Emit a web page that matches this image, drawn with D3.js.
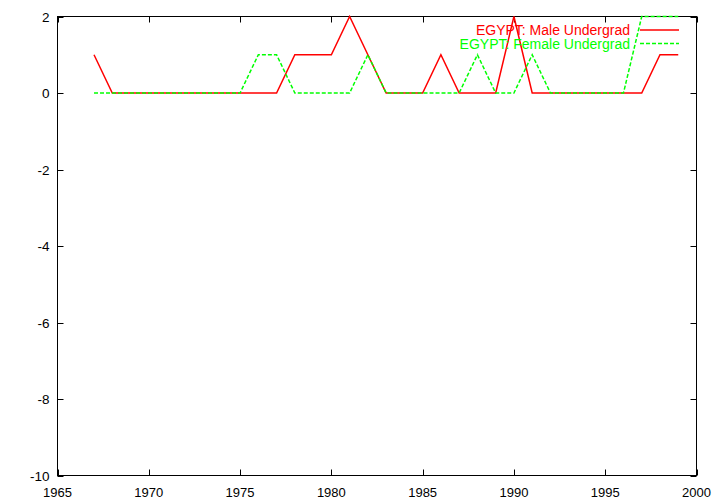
<!DOCTYPE html>
<html><head><meta charset="utf-8">
<script src="https://cdn.jsdelivr.net/npm/d3@7"></script>
<style>html,body{margin:0;padding:0;background:#fff;}svg{display:block;}</style>
</head><body>
<svg id="c" width="720" height="504"></svg>
<script>
const years = [1967,1968,1969,1970,1971,1972,1973,1974,1975,1976,1977,1978,1979,1980,1981,1982,1983,1984,1985,1986,1987,1988,1989,1990,1991,1992,1993,1994,1995,1996,1997,1998,1999];
const maleUndergrad =   [1,0,0,0,0,0,0,0,0,0,0,1,1,1,2,1,0,0,0,1,0,0,0,2,0,0,0,0,0,0,0,1,1];
const femaleUndergrad = [0,0,0,0,0,0,0,0,0,1,1,0,0,0,0,1,0,0,0,0,0,1,0,0,1,0,0,0,0,0,2,2,2];
const xTicks = [1965,1970,1975,1980,1985,1990,1995,2000];
const yTicks = [2,0,-2,-4,-6,-8,-10];
const seriesNames = ["EGYPT: Male Undergrad","EGYPT: Female Undergrad"];
const seriesColors = ["#ff0000","#00ff00"];

const svg = d3.select("#c");
const L=57.5, R=696.5, T=16.5, B=475.5;
const x = d3.scaleLinear().domain([1965,2000]).range([L,R]);
const y = d3.scaleLinear().domain([-10,2]).range([B,T]);
const font = "Liberation Sans, Arial, Helvetica, sans-serif";

svg.append("rect").attr("x",L).attr("y",T).attr("width",R-L).attr("height",B-T)
  .attr("fill","none").attr("stroke","#000").attr("stroke-width",1);

const tl = 6;
const g = svg.append("g").attr("stroke","#000").attr("stroke-width",1);
xTicks.forEach(t=>{
  const px = Math.round(x(t))+0.5;
  g.append("line").attr("x1",px).attr("x2",px).attr("y1",B).attr("y2",B-tl);
  g.append("line").attr("x1",px).attr("x2",px).attr("y1",T).attr("y2",T+tl);
});
yTicks.forEach(t=>{
  const py = Math.round(y(t))+0.5;
  g.append("line").attr("x1",L).attr("x2",L+tl).attr("y1",py).attr("y2",py);
  g.append("line").attr("x1",R).attr("x2",R-tl).attr("y1",py).attr("y2",py);
});
svg.append("g").selectAll("text").data(xTicks).join("text")
  .attr("x",d=>x(d)).attr("y",B+21).attr("text-anchor","middle")
  .attr("font-family",font).attr("font-size",13).text(d=>d);
svg.append("g").selectAll("text").data(yTicks).join("text")
  .attr("x",L-8).attr("y",d=>y(d)+5).attr("text-anchor","end")
  .attr("font-family",font).attr("font-size",13.5).text(d=>d);

const line = d3.line().x((d,i)=>x(years[i])).y(d=>y(d));
svg.append("path").datum(maleUndergrad).attr("d",line).attr("fill","none")
  .attr("stroke",seriesColors[0]).attr("stroke-width",1.5);
svg.append("path").datum(femaleUndergrad).attr("d",line).attr("fill","none")
  .attr("stroke",seriesColors[1]).attr("stroke-width",1.5).attr("stroke-dasharray","4,2");

const ly = [30, 43.5];
seriesNames.forEach((n,i)=>{
  svg.append("text").attr("x",630).attr("y",ly[i]+5).attr("text-anchor","end")
    .attr("font-family",font).attr("font-size",14).attr("fill",seriesColors[i]).text(n);
  svg.append("line").attr("x1",640).attr("x2",679).attr("y1",ly[i]).attr("y2",ly[i])
    .attr("stroke",seriesColors[i]).attr("stroke-width",1.5)
    .attr("stroke-dasharray", i===1 ? "4,2" : null);
});
</script>
</body></html>
